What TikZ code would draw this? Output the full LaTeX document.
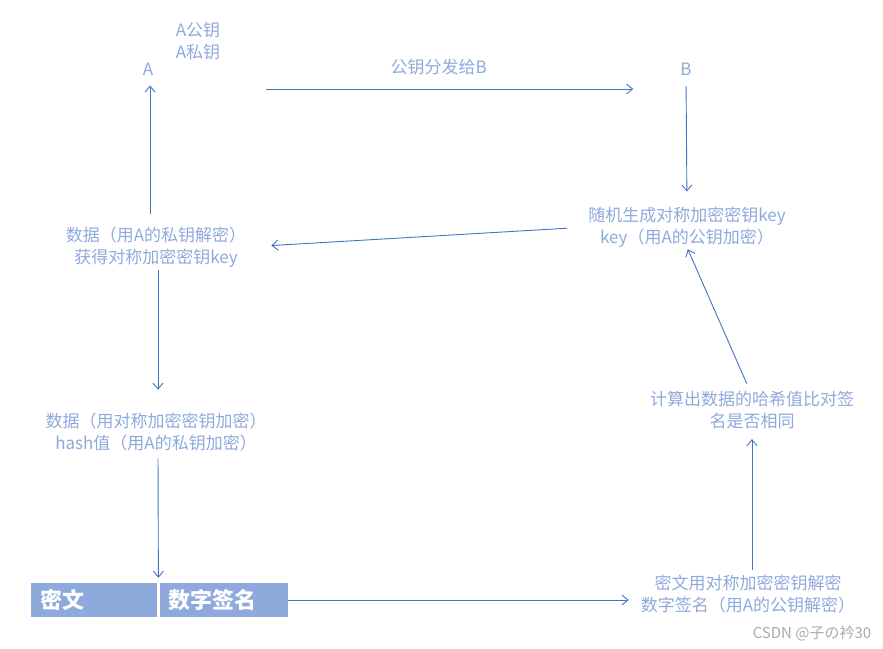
\documentclass[tikz,border=0pt]{standalone}
\usepackage{fontspec}
\setmainfont{Noto Sans CJK SC}
\usetikzlibrary{arrows.meta,positioning,calc}
\definecolor{LineBlue}{RGB}{68,114,196}
\definecolor{TextBlue}{RGB}{142,169,219}
\definecolor{GrayMark}{RGB}{170,170,170}
\tikzset{
  txt/.style={text=TextBlue,inner sep=0pt,align=center,font=\fontsize{17}{22}\selectfont},
  cell/.style={fill=TextBlue,text=white,inner xsep=9pt,inner ysep=0pt,minimum height=34pt,align=left,font=\fontsize{22}{26}\selectfont\bfseries},
  link/.style={-{Straight Barb[length=6pt,width=10pt]},draw=LineBlue,line width=0.9pt},
  wmark/.style={text=GrayMark,inner sep=0pt,font=\fontsize{15}{18}\selectfont}
}
\begin{document}
\begin{tikzpicture}[x=1pt,y=-1pt]
\useasboundingbox(0,0)rectangle(883,648);
\node[txt](A)at(148,69){A};
\node[txt](keys)at(198,41){A公钥\\A私钥};
\node[txt](B)at(686,69){B};
\node[txt](keygen)at(687,227){随机生成对称加密密钥key\\key（用A的公钥加密）};
\node[txt](decrypt)at(156,247){数据（用A的私钥解密）\\获得对称加密密钥key};
\node[txt](encrypt)at(156,432){数据（用对称加密密钥加密）\\hash值（用A的私钥加密）};
\node[cell,text width=108pt,anchor=west](cipher)at(31,600){密文};
\node[cell,text width=110pt,right=2pt of cipher](sign){数字签名};
\node[txt](verify)at(748,594){密文用对称加密密钥解密\\数字签名（用A的公钥解密）};
\node[txt](compare)at(752,410){计算出数据的哈希值比对签\\名是否相同};
\node[wmark](csdn)at(812,633){CSDN @子の衿30};
\draw[link]([shift={(113,20)}]A.east)--node[pos=0.47,above=14pt,txt]{公钥分发给B}([shift={(-47,20)}]B.west);
\draw[link,shorten <=11pt,shorten >=15pt](B.south)--(keygen.north);
\draw[link,shorten <=21pt,shorten >=25pt](keygen.west)--(decrypt.east);
\draw[link,shorten <=13pt,shorten >=10pt]([xshift=-6pt]decrypt.north)--([xshift=2pt]A.south);
\draw[link,shorten <=3pt,shorten >=23pt]([xshift=2pt]decrypt.south)--([xshift=2pt]encrypt.north);
\draw[link,shorten <=7pt,shorten >=5pt]([xshift=2pt]encrypt.south)--([xshift=1pt]cipher.north east);
\draw[link,shorten >=12pt](sign.east)--(sign.east-|verify.west);
\draw[link,shorten <=5pt,shorten >=10pt]([xshift=4pt]verify.north)--(compare.south);
\draw[link,shorten <=8pt,shorten >=2pt]([xshift=-2pt]compare.north)--(keygen.south);
\end{tikzpicture}
\end{document}
